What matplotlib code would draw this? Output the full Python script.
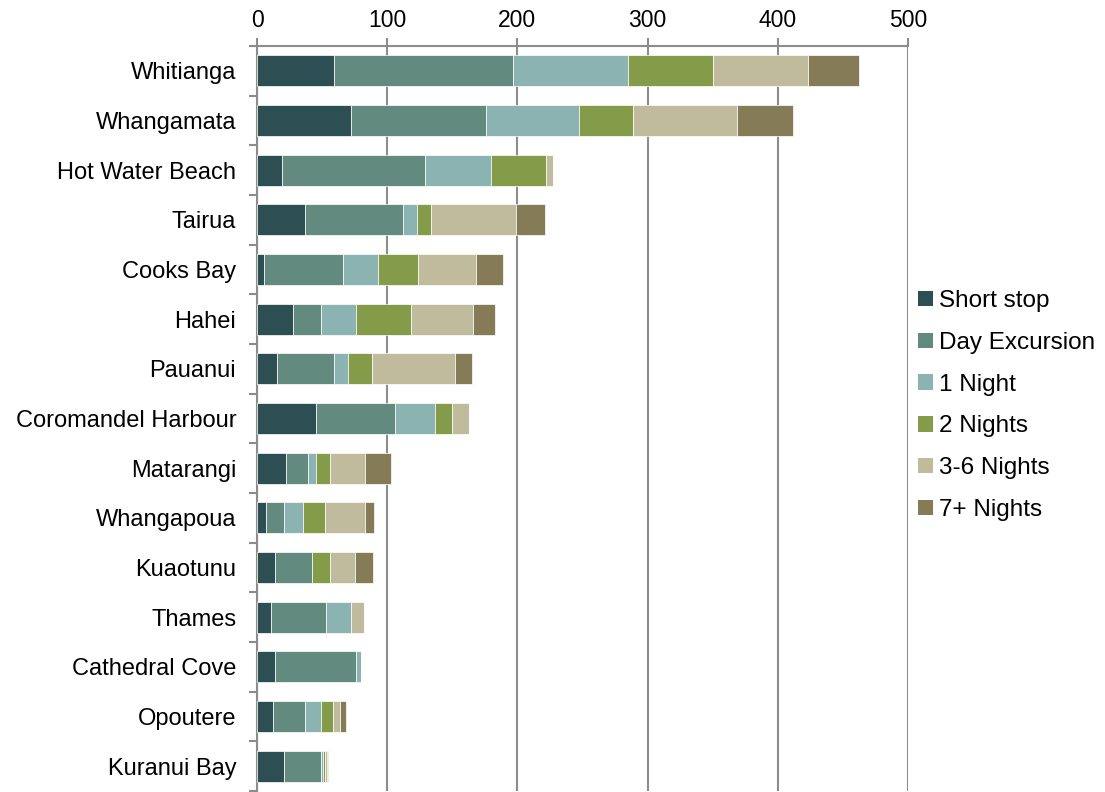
import matplotlib
matplotlib.use("Agg")
import matplotlib.pyplot as plt
from matplotlib.patches import Patch
import numpy as np

plt.rcParams['font.family'] = ['Liberation Sans', 'DejaVu Sans']

places = ["Whitianga", "Whangamata", "Hot Water Beach", "Tairua", "Cooks Bay",
          "Hahei", "Pauanui", "Coromandel Harbour", "Matarangi", "Whangapoua",
          "Kuaotunu", "Thames", "Cathedral Cove", "Opoutere", "Kuranui Bay"]

stay_types = ["Short stop", "Day Excursion", "1 Night", "2 Nights", "3-6 Nights", "7+ Nights"]

short_stop    = [59, 72, 19, 37, 5, 28, 15, 45, 22, 7, 14, 11, 14, 12, 20.5]
day_excursion = [138, 104, 110, 75, 61, 21, 44, 61, 17, 14, 28, 42, 62, 25, 28.3]
one_night     = [88, 71, 51, 11, 27, 27, 11, 31, 6, 14, 0, 19, 4, 12, 2]
two_nights    = [65, 42, 42, 11, 31, 42, 18, 13, 11, 17, 14, 0, 0, 9, 1.5]
three_six     = [73, 80, 5, 65, 44, 48, 64, 13, 27, 31, 19, 10, 0, 6, 1.5]
seven_plus    = [39, 43, 0, 22, 21, 17, 13, 0, 20, 7, 14, 0, 0, 4, 0.7]

colors = ["#2d4f53", "#628a7e", "#8bb3b2", "#849b4a", "#c0bb9c", "#857c57"]

series = [short_stop, day_excursion, one_night, two_nights, three_six, seven_plus]

fig = plt.figure(figsize=(11.05, 7.92), dpi=100)
W, H = 1105, 792
ax = fig.add_axes([257 / W, (H - 791) / H, 651 / W, 745 / H])

y = np.arange(len(places))
left = np.zeros(len(places))
for vals, col, name in zip(series, colors, stay_types):
    vals = np.array(vals, dtype=float)
    ax.barh(y, vals, left=left, height=0.63, color=col, edgecolor="white",
            linewidth=0.5, label=name, zorder=3)
    left += vals

grey = "#8c8c8c"
ax.set_xlim(0, 500)
ax.set_ylim(len(places) - 0.5, -0.5)
ax.xaxis.tick_top()
ax.set_xticks(np.arange(0, 501, 100))
ax.tick_params(axis="x", which="major", direction="out", length=6, width=1.5,
               color=grey, labelsize=16.5, pad=4, labelcolor="black")
ax.grid(axis="x", color=grey, linewidth=1.5, zorder=0)

ax.set_yticks(y)
ax.set_yticklabels(places)
ax.tick_params(axis="y", which="major", length=0, pad=15, labelsize=17, labelcolor="black")
ax.set_yticks(np.arange(len(places) + 1) - 0.5, minor=True)
ax.tick_params(axis="y", which="minor", direction="out", length=6, width=1.5, color=grey)

for side in ("right", "bottom"):
    ax.spines[side].set_visible(False)
for side in ("top", "left"):
    ax.spines[side].set_color(grey)
    ax.spines[side].set_linewidth(1.5)

handles = [Patch(facecolor=c, edgecolor="none") for c in colors]
fig.legend(handles, stay_types, loc="upper left", bbox_to_anchor=(918 / W, 1 - 290 / H),
           frameon=False, fontsize=17.5, handlelength=0.6, handleheight=0.6,
           handletextpad=0.25, labelspacing=0.815, borderaxespad=0, borderpad=0)

fig.savefig("out.png", dpi=100)
